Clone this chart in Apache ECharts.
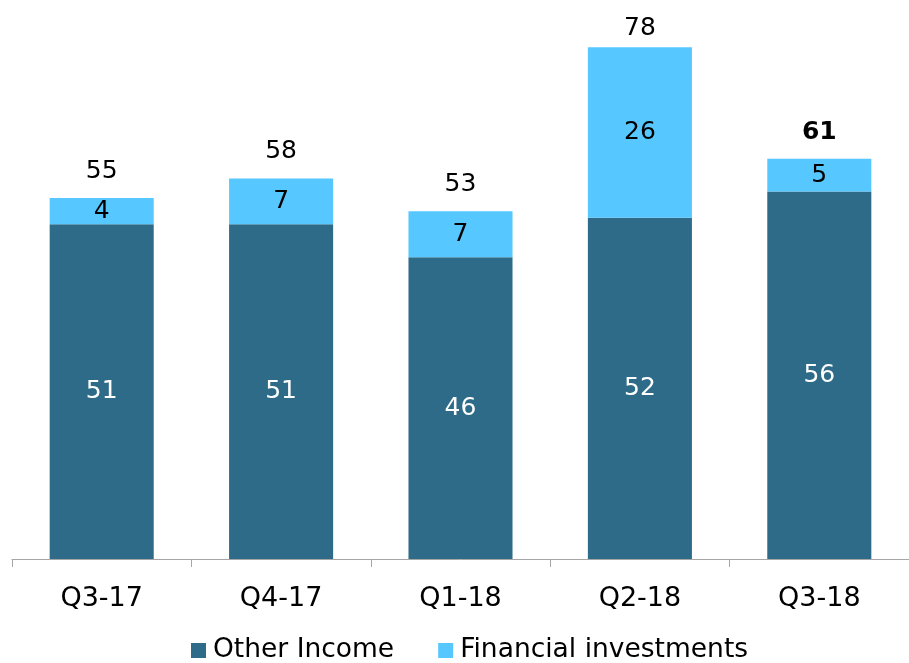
<!DOCTYPE html>
<html lang="en">

<head>
    <meta charset="UTF-8">
    <title>Income</title>
    <style>
        html, body { margin: 0; padding: 0; background: #fff; }
        #bar { width: 909px; height: 663px; }
    </style>
    <script src="https://cdn.jsdelivr.net/npm/echarts@6/dist/echarts.min.js"></script>
</head>

<body>
    <div id="bar"></div>
    <script>
        var categories = ['Q3-17', 'Q4-17', 'Q1-18', 'Q2-18', 'Q3-18'];
        var otherIncome = [51, 51, 46, 52, 56];
        var financialInvestments = [4, 7, 7, 26, 5];
        var totals = [55, 58, 53, 78, 61];

        var font = 'Verdana, "DejaVu Sans", sans-serif';

        var totalData = totals.map(function (v, i) {
            var item = { value: v };
            if (i === totals.length - 1) {
                item.label = { fontWeight: 'bold' };
            }
            if (v === 78) {
                item.label = { distance: 6 };
            }
            return item;
        });

        echarts.init(document.getElementById('bar')).setOption({
            animation: false,
            textStyle: { fontFamily: font },
            legend: {
                bottom: -6,
                left: 186,
                icon: 'rect',
                itemWidth: 15,
                itemHeight: 15,
                itemGap: 44,
                textStyle: { color: '#000000', fontSize: 26.5, fontFamily: font, padding: [0, 0, 0, 2] },
                data: ['Other Income', 'Financial investments']
            },
            grid: {
                top: 34,
                left: 12,
                right: -4,
                bottom: 104,
                containLabel: false
            },
            xAxis: {
                type: 'category',
                data: categories,
                axisLine: { show: true, lineStyle: { color: '#A6A6A6', width: 1 } },
                axisTick: { show: true, length: 8, lineStyle: { color: '#A6A6A6' } },
                axisLabel: { color: '#000000', fontSize: 27, margin: 26, fontFamily: font }
            },
            yAxis: {
                type: 'value',
                min: 0,
                max: 80,
                show: false,
                splitLine: { show: false }
            },
            series: [
                {
                    name: 'Other Income',
                    type: 'bar',
                    stack: 'a',
                    barWidth: '58%',
                    itemStyle: { color: '#2D6B88' },
                    label: { show: true, position: 'inside', color: '#ffffff', fontSize: 25, fontFamily: font },
                    data: otherIncome
                },
                {
                    name: 'Financial investments',
                    type: 'bar',
                    stack: 'a',
                    barWidth: '58%',
                    itemStyle: { color: '#57C8FF' },
                    label: { show: true, position: 'inside', color: '#000000', fontSize: 25, fontFamily: font },
                    data: financialInvestments
                },
                {
                    name: 'Total',
                    type: 'scatter',
                    symbolSize: 0,
                    silent: true,
                    itemStyle: { color: '#000000', opacity: 1 },
                    label: { show: true, position: 'top', distance: 14, color: '#000000', fontSize: 25, fontFamily: font },
                    data: totalData
                }
            ]
        });
    </script>
</body>

</html>
